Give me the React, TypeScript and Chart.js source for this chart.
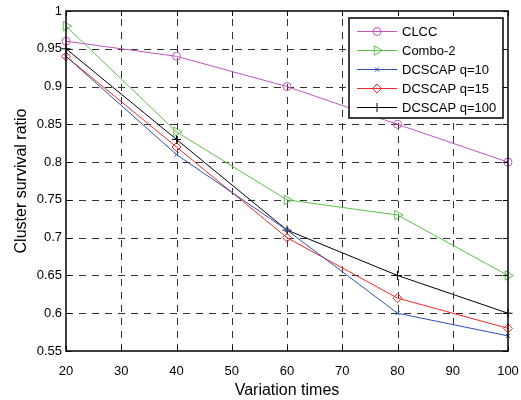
import React, { useEffect, useRef } from 'react';
import { Chart, registerables } from 'chart.js';
import { drawPoint } from 'chart.js/helpers';

Chart.register(...registerables);

// ---- Data ----
const variationTimes = [20, 40, 60, 80, 100];
const clcc = [0.96, 0.94, 0.9, 0.85, 0.8];
const combo2 = [0.98, 0.84, 0.75, 0.73, 0.65];
const dcscapQ10 = [0.94, 0.81, 0.71, 0.6, 0.57];
const dcscapQ15 = [0.94, 0.82, 0.7, 0.62, 0.58];
const dcscapQ100 = [0.95, 0.83, 0.71, 0.65, 0.6];
const seriesNames = ['CLCC', 'Combo-2', 'DCSCAP q=10', 'DCSCAP q=15', 'DCSCAP q=100'];
const xTickValues = [20, 30, 40, 50, 60, 70, 80, 90, 100];
const xTickLabels = ['20', '30', '40', '50', '60', '70', '80', '90', '100'];
const yTickValues = [0.55, 0.6, 0.65, 0.7, 0.75, 0.8, 0.85, 0.9, 0.95, 1];
const yTickLabels = ['0.55', '0.6', '0.65', '0.7', '0.75', '0.8', '0.85', '0.9', '0.95', '1'];
const xTitle = 'Variation times';
const yTitle = 'Cluster survival ratio';

const FONT = '"Liberation Sans", Arial, sans-serif';

const styles = [
  { color: '#C055C0', pointStyle: 'circle', radius: 4, rotation: 0 },
  { color: '#5CC04A', pointStyle: 'triangle', radius: 5.5, rotation: 90 },
  { color: '#2E4FB5', pointStyle: 'crossRot', radius: 3, rotation: 0 },
  { color: '#F02828', pointStyle: 'rectRot', radius: 4.5, rotation: 0 },
  { color: '#000000', pointStyle: 'cross', radius: 4.5, rotation: 0 },
];

const seriesValues = [clcc, combo2, dcscapQ10, dcscapQ15, dcscapQ100];

const framePlugin = {
  id: 'matlabFrame',
  beforeDatasetsDraw(chart: any) {
    const { ctx, chartArea: a, scales } = chart;
    const x = scales.x;
    const y = scales.y;
    ctx.save();
    ctx.strokeStyle = '#333';
    ctx.lineWidth = 1;
    ctx.setLineDash([7, 6]);
    xTickValues.forEach((v) => {
      const px = Math.round(x.getPixelForValue(v)) + 0.5;
      if (px < a.left + 2 || px > a.right - 2) return;
      ctx.beginPath();
      ctx.moveTo(px, a.bottom);
      ctx.lineTo(px, a.top);
      ctx.stroke();
    });
    yTickValues.forEach((v) => {
      const py = Math.round(y.getPixelForValue(v)) + 0.5;
      if (py < a.top + 2 || py > a.bottom - 2) return;
      ctx.beginPath();
      ctx.moveTo(a.left, py);
      ctx.lineTo(a.right, py);
      ctx.stroke();
    });
    ctx.restore();
  },
  afterDatasetsDraw(chart: any) {
    const { ctx, chartArea: a, scales } = chart;
    const x = scales.x;
    const y = scales.y;
    ctx.save();
    ctx.setLineDash([]);
    ctx.strokeStyle = '#000';
    ctx.lineWidth = 1;
    const tl = 5;
    xTickValues.forEach((v) => {
      const px = Math.round(x.getPixelForValue(v)) + 0.5;
      ctx.beginPath();
      ctx.moveTo(px, a.bottom);
      ctx.lineTo(px, a.bottom - tl);
      ctx.moveTo(px, a.top);
      ctx.lineTo(px, a.top + tl);
      ctx.stroke();
    });
    yTickValues.forEach((v) => {
      const py = Math.round(y.getPixelForValue(v)) + 0.5;
      ctx.beginPath();
      ctx.moveTo(a.left, py);
      ctx.lineTo(a.left + tl, py);
      ctx.moveTo(a.right, py);
      ctx.lineTo(a.right - tl, py);
      ctx.stroke();
    });
    ctx.lineWidth = 1.5;
    ctx.strokeRect(a.left, a.top, a.right - a.left, a.bottom - a.top);
    ctx.restore();
  },
  afterDraw(chart: any) {
    const { ctx, chartArea: a } = chart;
    const w = 154;
    const h = 100;
    const left = a.right - 159;
    const top = a.top + 7;
    ctx.save();
    ctx.fillStyle = '#fff';
    ctx.fillRect(left, top, w, h);
    ctx.strokeStyle = '#000';
    ctx.lineWidth = 1.5;
    ctx.setLineDash([]);
    ctx.strokeRect(left, top, w, h);
    ctx.font = `13px ${FONT}`;
    ctx.textBaseline = 'middle';
    ctx.textAlign = 'left';
    seriesNames.forEach((name, i) => {
      const st = styles[i];
      const ry = Math.round(top + 13 + i * 19) + 0.5;
      ctx.strokeStyle = st.color;
      ctx.lineWidth = 1;
      ctx.beginPath();
      ctx.moveTo(left + 8, ry);
      ctx.lineTo(left + 48, ry);
      ctx.stroke();
      ctx.fillStyle = 'rgba(0,0,0,0)';
      drawPoint(ctx, { pointStyle: st.pointStyle, radius: st.radius, rotation: st.rotation, borderWidth: 1 } as any, left + 28, ry);
      ctx.fillStyle = '#000';
      ctx.fillText(name, left + 53, ry + 0.5);
    });
    ctx.restore();
  },
};

export default function App() {
  const ref = useRef<HTMLCanvasElement | null>(null);

  useEffect(() => {
    if (!ref.current) return;
    const datasets = seriesNames.map((name, i) => ({
      label: name,
      data: variationTimes.map((t, j) => ({ x: t, y: seriesValues[i][j] })),
      borderColor: styles[i].color,
      backgroundColor: 'rgba(0,0,0,0)',
      borderWidth: 1,
      pointStyle: styles[i].pointStyle as any,
      pointRadius: styles[i].radius,
      pointRotation: styles[i].rotation,
      pointBorderColor: styles[i].color,
      pointBackgroundColor: 'rgba(0,0,0,0)',
      pointBorderWidth: 1,
      tension: 0,
      clip: false as any,
    }));

    const chart = new Chart(ref.current, {
      type: 'line',
      data: { datasets },
      options: {
        animation: false,
        responsive: false,
        maintainAspectRatio: false,
        layout: { padding: { top: 11, right: 13, left: 0, bottom: 0 } },
        plugins: { legend: { display: false }, tooltip: { enabled: false } },
        scales: {
          x: {
            type: 'linear',
            min: 20,
            max: 100,
            afterBuildTicks: (s: any) => {
              s.ticks = xTickValues.map((v) => ({ value: v }));
            },
            afterFit: (s: any) => {
              s.height = 49;
            },
            grid: {
              display: true,
              drawOnChartArea: false,
              drawTicks: true,
              tickLength: 13,
              tickColor: 'rgba(0,0,0,0)',
              color: 'rgba(0,0,0,0)',
            },
            border: { display: false },
            ticks: {
              padding: 0,
              color: '#000',
              font: { family: FONT, size: 13 },
              maxRotation: 0,
              autoSkip: false,
              callback: (v: any) => {
                const idx = xTickValues.findIndex((t) => Math.abs(t - Number(v)) < 1e-6);
                return idx >= 0 ? xTickLabels[idx] : '';
              },
            },
            title: {
              display: true,
              text: xTitle,
              color: '#000',
              font: { family: FONT, size: 16 },
              padding: { top: 0, bottom: 0 },
            },
          },
          y: {
            type: 'linear',
            min: 0.55,
            max: 1,
            afterBuildTicks: (s: any) => {
              s.ticks = yTickValues.map((v) => ({ value: v }));
            },
            afterFit: (s: any) => {
              s.width = 66;
            },
            grid: {
              display: true,
              drawOnChartArea: false,
              drawTicks: true,
              tickLength: 4,
              tickColor: 'rgba(0,0,0,0)',
              color: 'rgba(0,0,0,0)',
            },
            border: { display: false },
            ticks: {
              padding: 0,
              color: '#000',
              font: { family: FONT, size: 13 },
              autoSkip: false,
              callback: (v: any) => {
                const idx = yTickValues.findIndex((t) => Math.abs(t - Number(v)) < 1e-6);
                return idx >= 0 ? yTickLabels[idx] : '';
              },
            },
            title: {
              display: true,
              text: yTitle,
              color: '#000',
              font: { family: FONT, size: 16 },
              padding: { top: 12, bottom: 0 },
            },
          },
        },
      },
      plugins: [framePlugin],
    });
    return () => chart.destroy();
  }, []);

  return (
    <div style={{ position: 'fixed', left: 0, top: 0, width: 521, height: 400, background: '#fff' }}>
      <canvas ref={ref} width={521} height={400} style={{ display: 'block', width: 521, height: 400 }} />
    </div>
  );
}
